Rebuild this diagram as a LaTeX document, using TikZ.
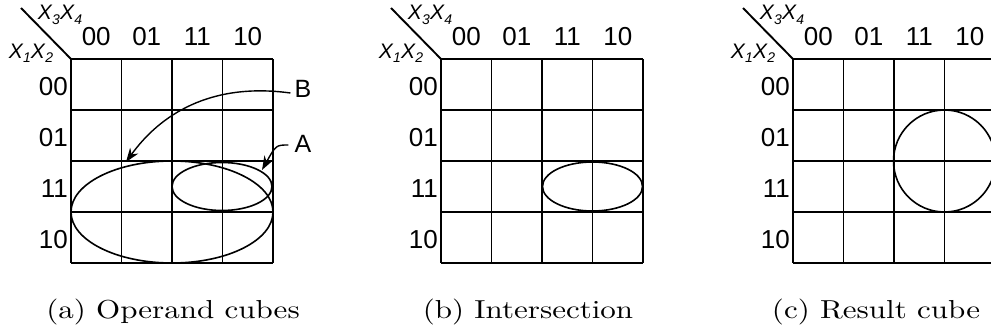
\documentclass[tikz,border=0pt]{standalone}
\usepackage{fontspec}
\setsansfont{Liberation Sans}
\usetikzlibrary{arrows.meta}

\newcommand{\kvar}[1]{X\kern0.3pt\raisebox{-0.4ex}{\fontsize{14}{14}\selectfont #1}}

\tikzset{
  kline/.style={line width=1.9pt},
  cube/.style={line width=1.6pt},
  hdr/.style={font=\sffamily\fontsize{26}{26}\selectfont, inner sep=0pt},
  vars/.style={font=\sffamily\itshape\fontsize{21}{21}\selectfont, inner sep=0pt},
  capt/.style={anchor=base, inner sep=0pt},
  pointer/.style={line width=1.4pt, -{Stealth[length=14pt,width=10pt]}}
}

\begin{document}
\begin{tikzpicture}[x=1pt,y=-1pt]
\useasboundingbox (0,0) rectangle (991,332);
\clip (0,0) rectangle (991,332);

\foreach \p/\sx in {a/71,b/441,c/793}{
  \begin{scope}[shift={(\sx,59)}]
    % the 4x4 map
    \foreach \i in {0,...,4}{
      \draw[kline] (50.5*\i,0) -- (50.5*\i,204);
      \draw[kline] (0,51*\i) -- (202,51*\i);
    }
    \draw[kline] (0,0) -- (-50,-51);
    \node[vars] (\p-top) at (-11,-44) {\kvar{3}\kvar{4}};
    \node[vars] (\p-left) at (-40,-6) {\kvar{1}\kvar{2}};
    \foreach \lab [count=\i from 0] in {00,01,11,10}{
      \node[hdr, anchor=base] (\p-col\i) at (25.25+50.5*\i,-14) {\lab};
      \node[hdr, anchor=east] (\p-row\i) at (-3,27.5+51*\i) {\lab};
    }
  \end{scope}
}

% (a) operand cubes
\draw[cube] (172,212) ellipse [x radius=101, y radius=51];
\draw[cube] (222,186.5) ellipse [x radius=50, y radius=24];
\node[hdr, font=\sffamily\fontsize{25}{25}\selectfont] (labB) at (303,89) {B};
\node[hdr, font=\sffamily\fontsize{25}{25}\selectfont] (labA) at (303,144) {A};
\coordinate (btip) at (126,162);
\coordinate (atip) at (262,170);
\draw[pointer] ([xshift=-4pt,yshift=-4pt]labB.west) .. controls (210,82) and (160,115) .. (btip);
\draw[pointer] ([xshift=-6pt,yshift=-1pt]labA.west) .. controls (276,145) .. (atip);

% (b) intersection
\draw[cube] (592.5,186.5) ellipse [x radius=50, y radius=24.5];

% (c) result cube
\draw[cube] (944.5,161) circle [radius=51];

\node[capt] (capa) at (173,318) {\scalebox{3.1}[2.6]{(a) Operand cubes}};
\node[capt] (capb) at (528,318) {\scalebox{3.1}[2.6]{(b) Intersection}};
\node[capt] (capc) at (876,318) {\scalebox{3.1}[2.6]{(c) Result cube}};
\end{tikzpicture}
\end{document}
